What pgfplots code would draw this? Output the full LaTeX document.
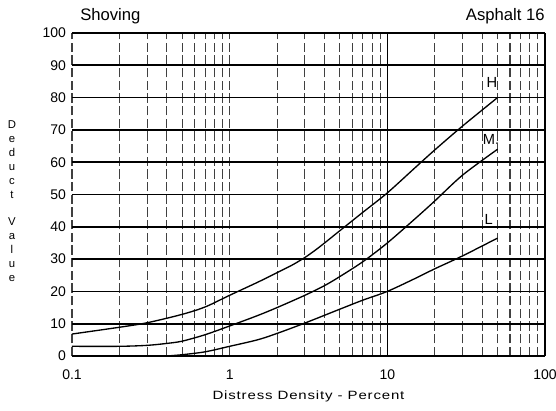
\documentclass[border=0pt]{standalone}
\usepackage{pgfplots}
\pgfplotsset{compat=1.18}
\usepackage{fontspec}
\setmainfont{Liberation Sans}
\newfontfamily\widefont[FakeStretch=1.25,LetterSpace=7]{Liberation Sans}
\begin{document}
\begin{tikzpicture}[x=1pt,y=1pt]
\begin{axis}[
  name=ax,
  xmode=log, xmin=0.1, xmax=100, ymin=0, ymax=100,
  width=354.75pt, height=242.25pt, scale only axis,
  axis line style={draw=none},
  ytick={0,10,...,100},
  xtick={0.1,1,10,100}, xticklabels={0.1,1,10,100},
  minor xtick={0.2,0.3,0.4,0.5,0.6,0.7,0.8,0.9,2,3,4,5,6,7,8,9,20,30,40,50,60,70,80,90},
  tick style={draw=none},
  xmajorgrids, xminorgrids, ymajorgrids,
  major x grid style={black!75, line width=0.8pt, dash pattern=on 7pt off 2.5pt},
  minor x grid style={black!75, line width=0.8pt, dash pattern=on 7pt off 2.5pt},
  major y grid style={black, line width=1.3pt},
  /pgf/number format/assume math mode=true,
  tick label style={font=\fontsize{10.5}{12}\selectfont},
  xticklabel style={yshift=-7pt},
  yticklabel style={xshift=-1pt},
  clip=false,
]
\addplot[black, line width=1.2pt] coordinates {(10,0) (10,100)};
\addplot[black, line width=1.2pt] coordinates {(100,0) (100,100)};
% H
\addplot[black, line width=1pt, smooth] coordinates {
 (0.1,6.8) (0.2,8.9) (0.3,10.3) (0.5,12.9) (0.7,15.2) (1,18.8) (1.5,22.8) (2,25.8)
 (2.5,28.2) (3,30.5) (3.5,32.8) (4,35) (5,38.8) (7,44.5) (10,50.5) (15,58.3)
 (20,63.8) (30,71.2) (50,80)};
% M
\addplot[black, line width=1pt, smooth] coordinates {
 (0.1,3) (0.2,3) (0.3,3.3) (0.4,3.9) (0.5,4.6) (0.7,6.6) (1,9.3) (1.5,12.5)
 (2,15) (3,18.8) (4,21.8) (5,24.6) (7,29.2) (10,35) (15,42.5) (20,48) (30,56) (50,64)};
% L
\addplot[black, line width=1pt, smooth] coordinates {
 (0.4,0) (0.5,0.4) (0.7,1.3) (1,3) (1.5,5) (2,7) (3,10.2) (5,14.5)
 (7,17.3) (10,20) (15,24) (20,27) (30,31) (50,36.5)};
\node[font=\fontsize{11}{13}\selectfont] at (axis cs:46,84.8) {H};
\node[font=\fontsize{11}{13}\selectfont] at (axis cs:45.5,66.9) {M.};
\node[font=\fontsize{11}{13}\selectfont] at (axis cs:44,42.4) {L};
\node[font=\fontsize{12.5}{14}\selectfont, anchor=base west, inner sep=0pt] at ([xshift=6pt,yshift=9pt]current axis.north west) {Shoving};
\node[font=\fontsize{12.5}{14}\selectfont, anchor=base east, inner sep=0pt] at ([yshift=9pt]current axis.north east) {Asphalt 16};
\node[font=\widefont\fontsize{9}{10}\selectfont, inner sep=0pt] at ([yshift=-30.5pt]current axis.south) {Distress Density - Percent};
\node[font=\fontsize{8.5}{10.5}\selectfont, align=center, inner sep=0pt] at ([xshift=-45pt,yshift=-5pt]current axis.west)
 {D\\e\\d\\u\\c\\t\\[9.75pt] V\\a\\l\\u\\e};
\end{axis}
\pgfresetboundingbox
\path[use as bounding box, draw=none] ([xshift=-54pt,yshift=-40.5pt]ax.south west) rectangle ([xshift=8.25pt,yshift=24.75pt]ax.north east);
\end{tikzpicture}
\end{document}
